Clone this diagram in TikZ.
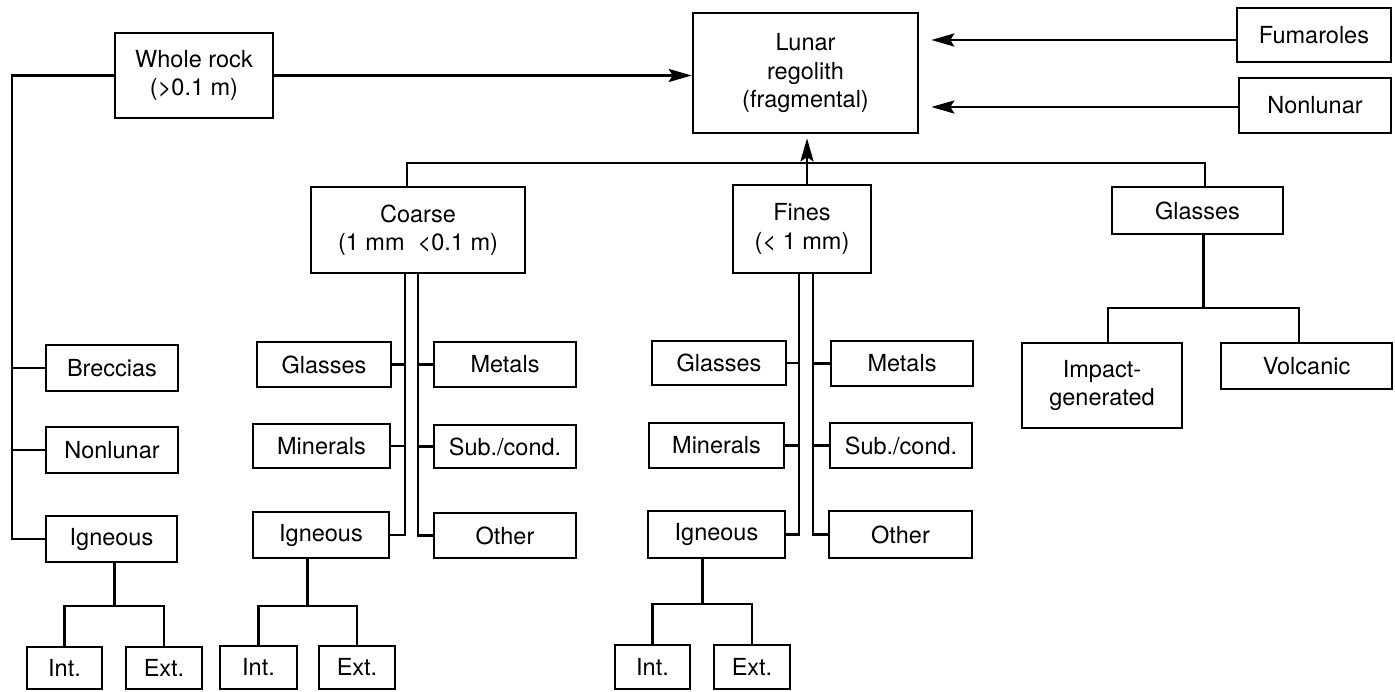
\documentclass[tikz,border=0pt]{standalone}
\usepackage{fontspec}
\setmainfont{TeX Gyre Heros}
\usetikzlibrary{arrows.meta,calc}
\begin{document}
\begin{tikzpicture}[x=1pt,y=-1pt,
  box/.style={draw, line width=2.6pt, inner sep=0pt, align=center, font=\fontsize{23.5}{28.5}\selectfont},
  sz/.style 2 args={minimum width=#1pt, minimum height=#2pt},
  ln/.style={line width=2.6pt},
  arr/.style={line width=2.6pt, -{Stealth[length=23pt,width=13pt,inset=4pt]}}]
\useasboundingbox (0,0) rectangle (1395,692);

% top level
\node[box, sz={158}{85}] (whole) at (194,75.5) {Whole rock\\(>0.1 m)};
\node[box, sz={225}{120}] (lunar) at (805.5,73) {Lunar\\regolith\\(fragmental)};
\node[box, sz={154}{54}] (fum) at (1314,35) {Fumaroles};
\node[box, sz={152}{55}] (nonl) at (1315,105.5) {Nonlunar};

% second level
\node[box, sz={214}{86}] (coarse) at (418,230) {Coarse\\(1 mm\ \ <0.1 m)};
\node[box, sz={138}{88}] (fines) at (802,229) {Fines\\(< 1 mm)};
\node[box, sz={171}{47}] (glassR) at (1197.5,210.5) {Glasses};
\node[box, sz={160}{85}] (impact) at (1102,385.5) {Impact-\\generated};
\node[box, sz={171}{46}] (volc) at (1306.5,366) {Volcanic};

% whole rock column
\node[box, sz={132}{46}] (brec) at (112,368) {Breccias};
\node[box, sz={132}{46}] (nonl2) at (112,450) {Nonlunar};
\node[box, sz={131}{46}] (ign1) at (111.5,539) {Igneous};
\node[box, sz={75}{42}] (int1) at (64.5,668) {Int.};
\node[box, sz={76}{42}] (ext1) at (164,668) {Ext.};

% coarse column
\node[box, sz={134}{45}] (cglass) at (324,364.5) {Glasses};
\node[box, sz={137}{44}] (cmin) at (321.5,446) {Minerals};
\node[box, sz={136}{46}] (cign) at (321,535) {Igneous};
\node[box, sz={142}{45}] (cmet) at (505,364.5) {Metals};
\node[box, sz={142}{43}] (csub) at (505,446.5) {Sub./cond.};
\node[box, sz={142}{45}] (coth) at (505,535.5) {Other};
\node[box, sz={77}{43}] (int2) at (258.5,667.5) {Int.};
\node[box, sz={76}{43}] (ext2) at (357,667.5) {Ext.};

% fines column
\node[box, sz={134}{44}] (fglass) at (719,363) {Glasses};
\node[box, sz={135}{45}] (fmin) at (716.5,445.5) {Minerals};
\node[box, sz={137}{47}] (fign) at (716.5,534.5) {Igneous};
\node[box, sz={142}{45}] (fmet) at (902,363.5) {Metals};
\node[box, sz={142}{45}] (fsub) at (901,445.5) {Sub./cond.};
\node[box, sz={143}{47}] (foth) at (900.5,534.5) {Other};
\node[box, sz={75}{44}] (int3) at (652.5,667) {Int.};
\node[box, sz={76}{44}] (ext3) at (752,667) {Ext.};

% helper coordinates
\coordinate (L) at (12,0);
\coordinate (busL) at (407,163);
\coordinate (busR) at (1205,163);
\coordinate (up) at (807,163);
\coordinate (cL) at (405,0);
\coordinate (cR) at (418,0);
\coordinate (fL) at (799,0);
\coordinate (fR) at (813,0);
\coordinate (b1) at (0,606);
\coordinate (b2) at (0,606);
\coordinate (b3) at (0,604);
\coordinate (gi) at (1108,308);
\coordinate (gv) at (1299,308);
\coordinate (gm) at (1203.5,308);
\coordinate (fw) at ([yshift=-5pt]fum.west);
\coordinate (nw) at ([yshift=-1.5pt]nonl.west);
\coordinate (le) at ([xshift=12pt]lunar.east);
\coordinate (ls) at ([yshift=-4pt]lunar.south);

% arrows into lunar regolith
\draw[arr] (whole.east) -- (lunar.west |- whole.east);
\draw[arr] (fw) -- (le |- fw);
\draw[arr] (nw) -- (le |- nw);
\draw[arr] (up) -- (ls -| up);

% top bus
\draw[ln] (coarse.north -| busL) -- (busL) -- (busR) -- (glassR.north -| busR);
\draw[ln] (fines.north -| up) -- (up);

% whole rock branch
\draw[ln] (whole.west) -- (whole.west -| L) |- (ign1.west);
\draw[ln] (brec.west) -- (brec.west -| L);
\draw[ln] (nonl2.west) -- (nonl2.west -| L);

% coarse double trunk
\draw[ln] (cign.east) -| (coarse.south -| cL);
\draw[ln] (cglass.east) -- (cglass.east -| cL);
\draw[ln] (cmin.east) -- (cmin.east -| cL);
\draw[ln] (coth.west) -| (coarse.south -| cR);
\draw[ln] (cmet.west) -- (cmet.west -| cR);
\draw[ln] (csub.west) -- (csub.west -| cR);

% fines double trunk
\draw[ln] (fign.east) -| (fines.south -| fL);
\draw[ln] (fglass.east) -- (fglass.east -| fL);
\draw[ln] (fmin.east) -- (fmin.east -| fL);
\draw[ln] (foth.west) -| (fines.south -| fR);
\draw[ln] (fmet.west) -- (fmet.west -| fR);
\draw[ln] (fsub.west) -- (fsub.west -| fR);

% igneous subtrees
\coordinate (m1) at ($(int1.north)!0.5!(ext1.north)$);
\coordinate (m2) at ($(int2.north)!0.5!(ext2.north)$);
\coordinate (m3) at ($(int3.north)!0.5!(ext3.north)$);
\draw[ln] (int1.north) -- (int1.north |- b1) -| (ext1.north);
\draw[ln] (m1 |- ign1.south) -- (m1 |- b1);
\draw[ln] (int2.north) -- (int2.north |- b2) -| (ext2.north);
\draw[ln] (m2 |- cign.south) -- (m2 |- b2);
\draw[ln] (int3.north) -- (int3.north |- b3) -| (ext3.north);
\draw[ln] (m3 |- fign.south) -- (m3 |- b3);

% glasses subtree
\draw[ln] (glassR.south -| gm) -- (gm);
\draw[ln] (impact.north -| gi) -- (gi) -- (gv) -- (volc.north -| gv);
\end{tikzpicture}
\end{document}
